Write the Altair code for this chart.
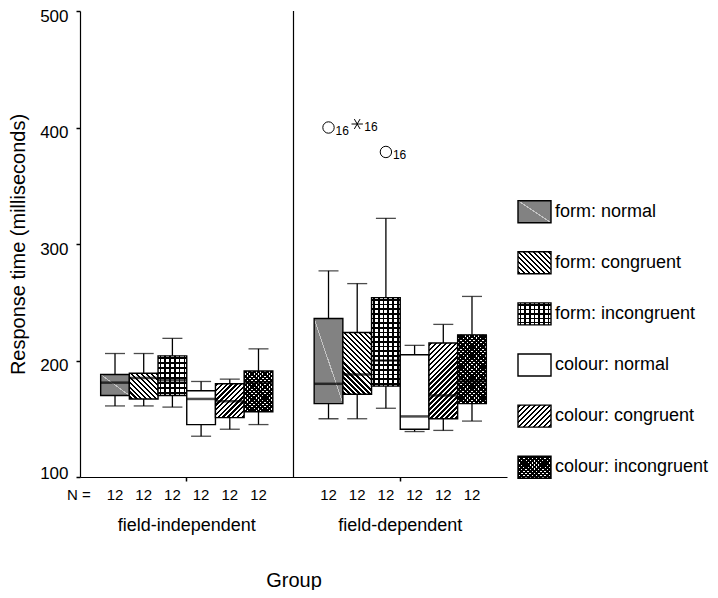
import math
import altair as alt
import pandas as pd

# ---------------- data ----------------
groups = ["field-independent", "field-dependent"]
conditions = ["form: normal", "form: congruent", "form: incongruent",
              "colour: normal", "colour: congruent", "colour: incongruent"]

fi_low = [161, 161, 160, 135, 141, 145]
fi_q1 = [170, 167, 170, 145, 151, 156]
fi_med = [181, 185, 183, 167, 165, 181]
fi_q3 = [188, 189, 204, 174, 180, 191]
fi_high = [206, 206, 219, 182, 184, 210]
fi_n = [12, 12, 12, 12, 12, 12]

fd_low = [150, 150, 159, 139, 140, 148]
fd_q1 = [163, 171, 178, 141, 150, 163]
fd_med = [180, 188, 200, 152, 170, 182]
fd_q3 = [236, 224, 254, 205, 215, 222]
fd_high = [277, 266, 322, 213, 231, 255]
fd_n = [12, 12, 12, 12, 12, 12]

out_group = ["field-dependent", "field-dependent", "field-dependent"]
out_cond = ["form: normal", "form: congruent", "form: incongruent"]
out_value = [400, 403, 379]
out_kind = ["outlier", "extreme", "outlier"]
out_label = ["16", "16", "16"]

n_prefix = ["N ="]

# ---------------- tables ----------------
boxes = pd.DataFrame({
    "group": [groups[0]] * 6 + [groups[1]] * 6,
    "cond": conditions + conditions,
    "low": fi_low + fd_low,
    "q1": fi_q1 + fd_q1,
    "med": fi_med + fd_med,
    "q3": fi_q3 + fd_q3,
    "high": fi_high + fd_high,
    "n": fi_n + fd_n,
})
outliers = pd.DataFrame({"group": out_group, "cond": out_cond, "value": out_value,
                         "kind": out_kind, "label": out_label})
legend_df = pd.DataFrame({"cond": conditions})

# ---------------- layout / style ----------------
W, H = 427, 466
Y_MIN, Y_MAX = 100, 500
PAD_OUT = 0.72
BOX_W = (W / len(groups)) / (len(conditions) + 2 * PAD_OUT)
PX = H / (Y_MAX - Y_MIN)
INK, PAPER, CLEAR, GRAY = "black", "white", "rgba(0,0,0,0)", "#828282"
FONT = "Liberation Sans"

SW_X0, SW_X1, SW_W, SW_H = 438, 471, 33, 22
TXT_X = 475
LEG_STEP = 51.1
LEG_Y0 = 200.7 - LEG_STEP / 2
ASTERISK = "M-1,0L1,0M-0.5,-0.866L0.5,0.866M-0.5,0.866L0.5,-0.866"


def stops_for(n, frac, ink, paper):
    st = [{"offset": 0, "color": paper}]
    for i in range(n):
        a = round((i + (1 - frac) / 2) / n, 5)
        b = round((i + (1 + frac) / 2) / n, 5)
        st += [{"offset": a, "color": paper}, {"offset": a, "color": ink},
               {"offset": b, "color": ink}, {"offset": b, "color": paper}]
    st.append({"offset": 1, "color": paper})
    return st


def diag(w, h, direction, period, frac, ink, paper):
    s = (w + h) / (w * w + h * h)
    n = max(1, round((w + h) / (math.sqrt(2) * period)))
    if direction == "down":
        x1, y1, x2, y2 = 0, 1, s * w, 1 - s * h
    else:
        x1, y1, x2, y2 = 0, 0, s * w, s * h
    return {"gradient": "linear", "x1": x1, "y1": y1, "x2": x2, "y2": y2,
            "stops": stops_for(n, frac, ink, paper)}


def straight(w, h, orient, period, frac, ink, paper):
    if orient == "vertical":
        n = max(1, round(w / period))
        x2, y2 = 1, 0
    else:
        n = max(1, round(h / period))
        x2, y2 = 0, 1
    return {"gradient": "linear", "x1": 0, "y1": 0, "x2": x2, "y2": y2,
            "stops": stops_for(n, frac, ink, paper)}


def corner_line(w, h, color, base):
    span = 2 * w * h / math.sqrt(w * w + h * h)
    half = 0.5 / span
    a, b = round(0.5 - half, 5), round(0.5 + half, 5)
    return {"gradient": "linear", "x1": 0, "y1": 1, "x2": 1, "y2": 0,
            "stops": [{"offset": 0, "color": base}, {"offset": a, "color": base},
                      {"offset": a, "color": color}, {"offset": b, "color": color},
                      {"offset": b, "color": base}, {"offset": 1, "color": base}]}


def fills_for(c, w, h):
    if c == "form: normal":
        return [corner_line(w, h, "#c4c4c4", GRAY)]
    if c == "form: congruent":
        return [diag(w, h, "down", 3.5, 0.5, INK, PAPER)]
    if c == "form: incongruent":
        return [PAPER, straight(w, h, "vertical", 4.7, 0.35, INK, CLEAR),
                straight(w, h, "horizontal", 4.7, 0.35, INK, CLEAR)]
    if c == "colour: congruent":
        return [diag(w, h, "up", 3.5, 0.5, INK, PAPER)]
    if c == "colour: incongruent":
        return [PAPER, diag(w, h, "up", 3.1, 0.6, INK, CLEAR),
                diag(w, h, "down", 3.1, 0.6, INK, CLEAR)]
    return [PAPER]


x_axis = alt.Axis(labelFontSize=18, labelPadding=35, tickSize=4, tickWidth=1.5,
                  domainColor="black", domainWidth=1.2, tickColor="black",
                  labelColor="black", titleFontSize=20, titleFontWeight="normal",
                  titleColor="black", titlePadding=36, labelAngle=0)
y_axis = alt.Axis(values=[100, 200, 300, 400, 500], tickSize=4, tickWidth=1.5,
                  labelFontSize=17, labelPadding=8,
                  labelOffset={"condition": {"test": "datum.value == 100", "value": -4},
                               "value": 5},
                  grid=False,
                  domainColor="black", domainWidth=1.2, tickColor="black",
                  labelColor="black", titleFontSize=20, titleFontWeight="normal",
                  titleColor="black", titlePadding=11)


def ex(**kw):
    return alt.X("group:N", sort=groups,
                 scale=alt.Scale(domain=groups, paddingInner=0, paddingOuter=0),
                 axis=x_axis, title="Group", **kw)


def exo():
    return alt.XOffset("cond:N", sort=conditions,
                       scale=alt.Scale(domain=conditions, paddingInner=0, paddingOuter=PAD_OUT))


def ey(field):
    return alt.Y(f"{field}:Q", scale=alt.Scale(domain=[Y_MIN, Y_MAX], nice=False, zero=False),
                 axis=y_axis, title="Response time (milliseconds)")


layers = []
# divider between the two groups
layers.append(alt.Chart(pd.DataFrame({"group": [groups[1]]}))
              .mark_rule(color="black", strokeWidth=1.2)
              .encode(x=ex(bandPosition=0)))

base = alt.Chart(boxes)
layers.append(base.mark_rule(color="black", strokeWidth=1.3)
              .encode(x=ex(), xOffset=exo(), y=ey("low"), y2="high:Q"))
layers.append(base.mark_tick(color="black", size=20, thickness=1.3)
              .encode(x=ex(), xOffset=exo(), y=ey("low")))
layers.append(base.mark_tick(color="black", size=20, thickness=1.3)
              .encode(x=ex(), xOffset=exo(), y=ey("high")))

for _, r in boxes.iterrows():
    sub = base.transform_filter((alt.datum.group == r["group"]) & (alt.datum.cond == r["cond"]))
    h = (r["q3"] - r["q1"]) * PX
    for f in fills_for(r["cond"], BOX_W, h):
        layers.append(sub.mark_bar(fill=f, strokeWidth=0)
                      .encode(x=ex(), xOffset=exo(), y=ey("q1"), y2="q3:Q"))
    layers.append(sub.mark_bar(fillOpacity=0, stroke="black", strokeWidth=1.4)
                  .encode(x=ex(), xOffset=exo(), y=ey("q1"), y2="q3:Q"))

layers.append(base.mark_tick(color="black", size=BOX_W, thickness=2.5)
              .encode(x=ex(), xOffset=exo(), y=ey("med")))

# outliers
ob = alt.Chart(outliers)
layers.append(ob.transform_filter(alt.datum.kind == "outlier")
              .mark_point(shape="circle", filled=False, size=130, color="black",
                          strokeWidth=1, opacity=1)
              .encode(x=ex(), xOffset=exo(), y=ey("value")))
layers.append(ob.transform_filter(alt.datum.kind == "extreme")
              .mark_point(shape=ASTERISK, filled=False, size=130, color="black",
                          strokeWidth=1, opacity=1)
              .encode(x=ex(), xOffset=exo(), y=ey("value")))
layers.append(ob.mark_text(align="left", baseline="middle", dx=7, dy=3, fontSize=12,
                           color="black")
              .encode(x=ex(), xOffset=exo(), y=ey("value"), text="label:N"))

# N row
layers.append(base.mark_text(fontSize=15, baseline="middle", color="black")
              .encode(x=ex(), xOffset=exo(), y=alt.value(H + 18), text="n:Q"))
layers.append(alt.Chart(pd.DataFrame({"label": n_prefix}))
              .mark_text(align="left", baseline="middle", fontSize=15, color="black")
              .encode(x=alt.value(-13), y=alt.value(H + 18), text="label:N"))

main = alt.layer(*layers)

# ---------------- legend ----------------
ly = alt.Y("cond:N", sort=conditions,
           scale=alt.Scale(type="band", domain=conditions,
                           range=[LEG_Y0, LEG_Y0 + 6 * LEG_STEP],
                           paddingInner=0.57, paddingOuter=0.285),
           axis=None)
leg_layers = []
lb = alt.Chart(legend_df)
for c in conditions:
    sub = lb.transform_filter(alt.datum.cond == c)
    for f in fills_for(c, SW_W, SW_H):
        leg_layers.append(sub.mark_rect(fill=f, strokeWidth=0)
                          .encode(x=alt.value(SW_X0), x2=alt.value(SW_X1), y=ly))
    leg_layers.append(sub.mark_rect(fillOpacity=0, stroke="black", strokeWidth=1.4)
                      .encode(x=alt.value(SW_X0), x2=alt.value(SW_X1), y=ly))
leg_layers.append(lb.mark_text(align="left", baseline="middle", fontSize=18, color="black")
                  .encode(x=alt.value(TXT_X), y=ly, text="cond:N"))
legend = alt.layer(*leg_layers)

chart = (alt.layer(main, legend)
         .resolve_scale(y="independent")
         .properties(width=W, height=H,
                     autosize=alt.AutoSizeParams(type="none"),
                     padding={"left": 72, "top": 3, "right": 203, "bottom": 113})
         .configure(font=FONT)
         .configure_view(strokeWidth=0))

chart.save("out.html", embed_options={"renderer": "svg", "actions": False})
